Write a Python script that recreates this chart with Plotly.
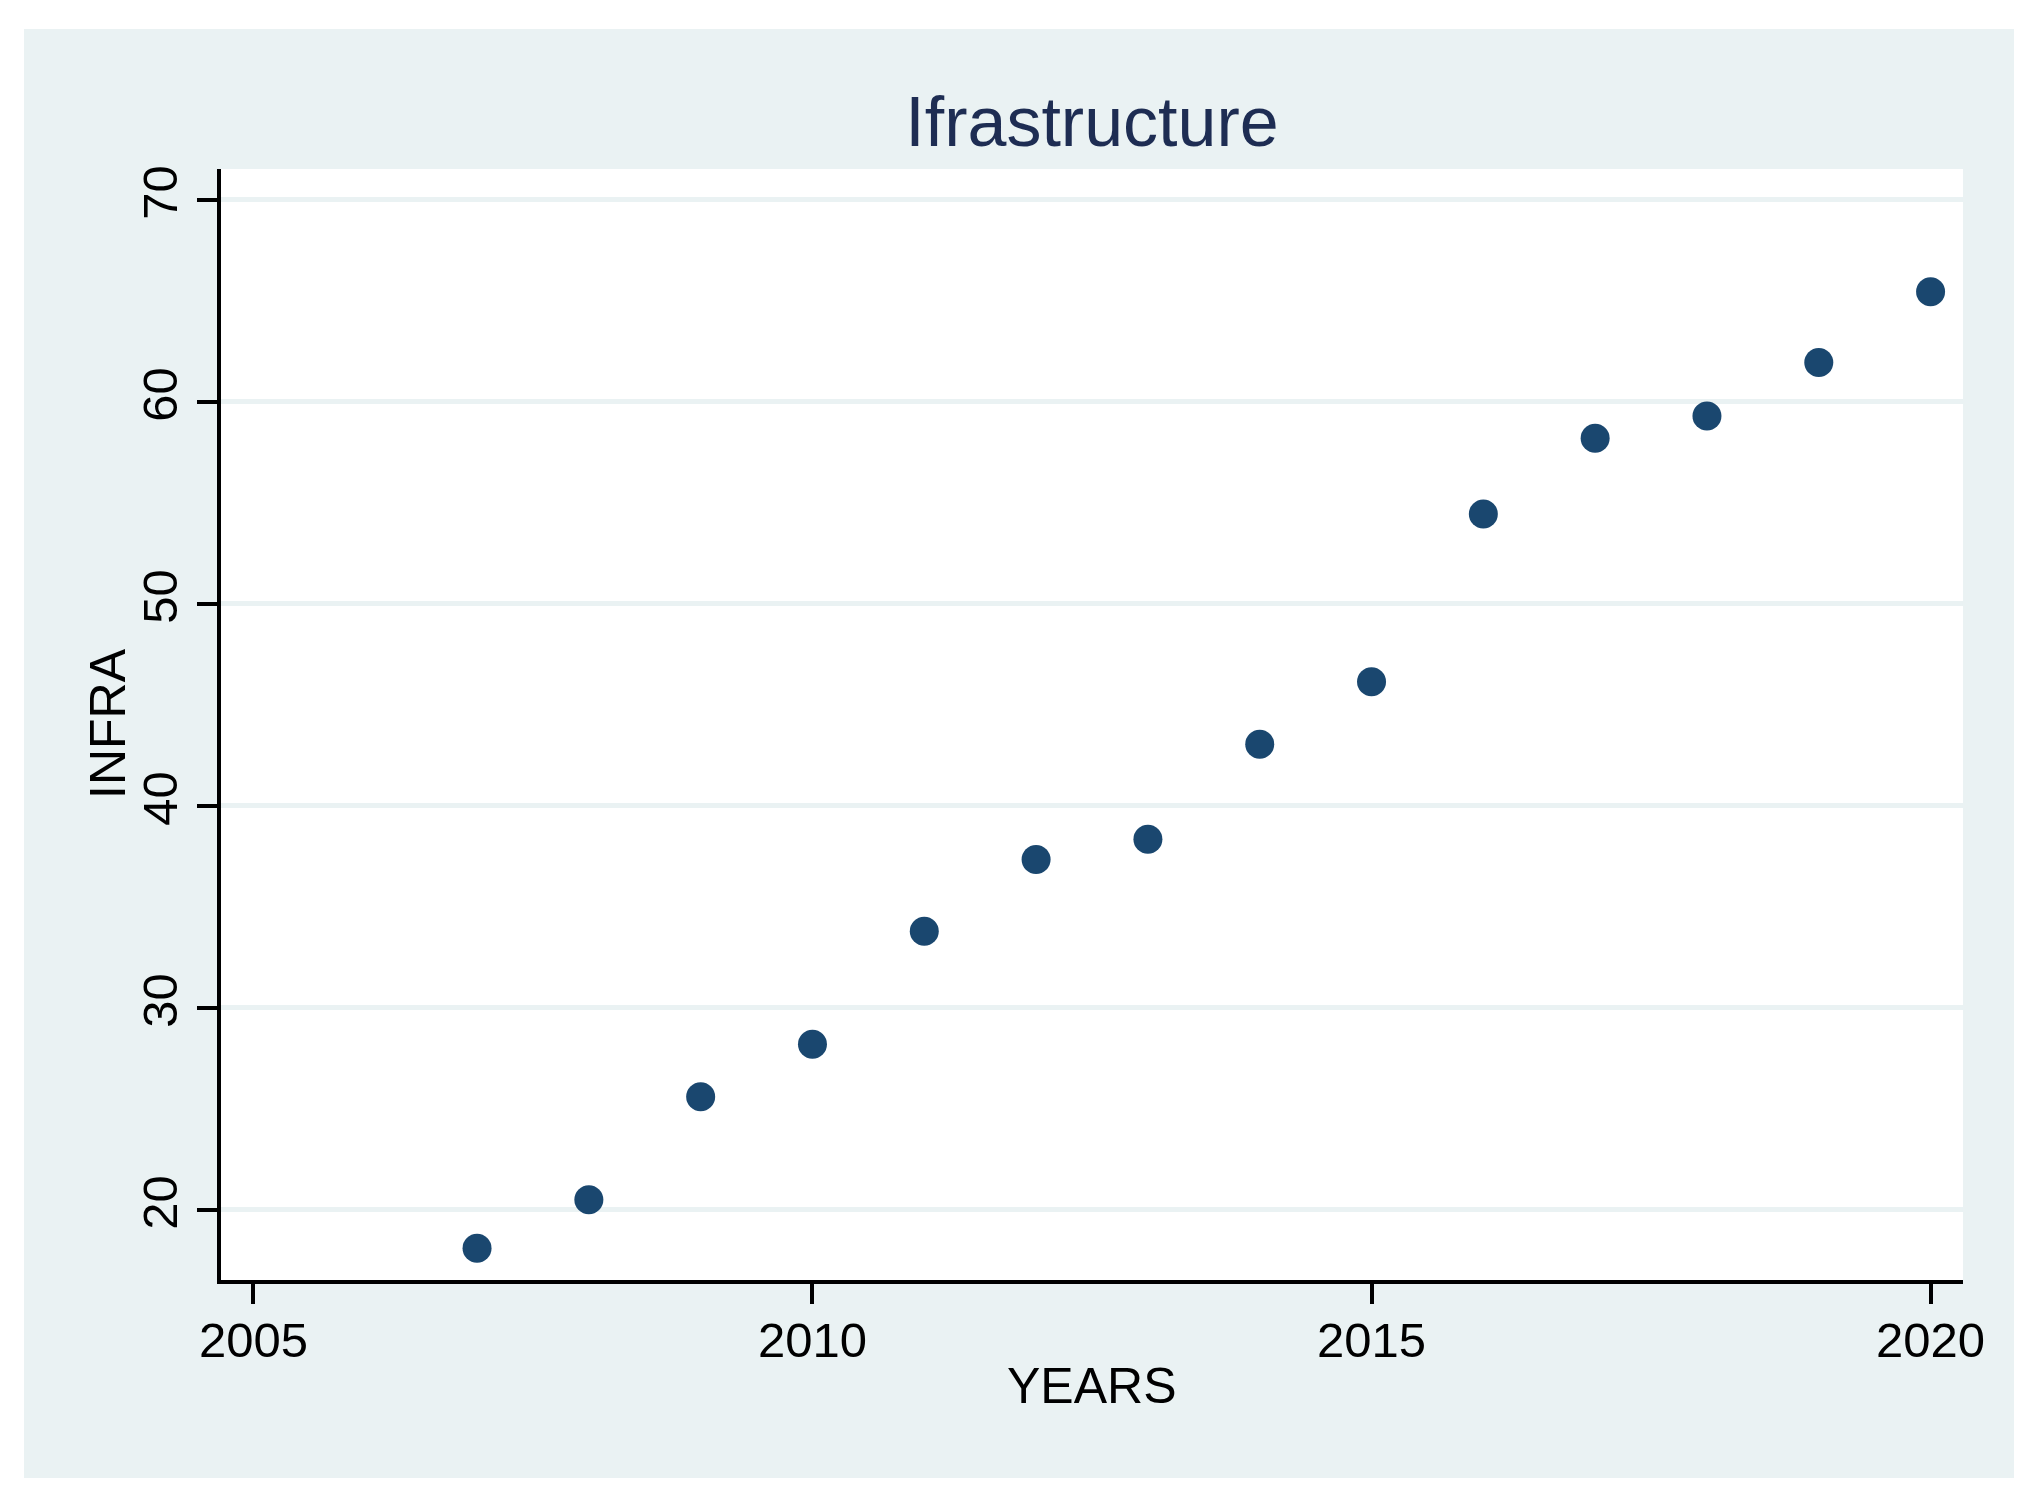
import plotly.graph_objects as go

years = [2007, 2008, 2009, 2010, 2011, 2012, 2013, 2014, 2015, 2016, 2017, 2018, 2019, 2020]
infra = [18.1, 20.5, 25.6, 28.2, 33.8, 37.35, 38.35, 43.05, 46.15, 54.45, 58.2, 59.3, 61.95, 65.45]
x_ticks = [2005, 2010, 2015, 2020]
y_ticks = [20, 30, 40, 50, 60, 70]

# page offset caused by the default 8px body margin
OFF = 8
W, H = 2036 - 2 * OFF, 1507 - 2 * OFF
# plot area in page pixels
PL, PR, PT, PB = 221, 1963, 169, 1280
L, T = PL - OFF, PT - OFF
R, B = W - (PR - OFF), H - (PB - OFF)
pw, ph = W - L - R, H - T - B
BG = "#EAF2F3"
FONT = "Liberation Sans, Arial, Helvetica, sans-serif"

def px_x(p):
    return (p - PL) / pw

def px_y(p):
    return (PB - p) / ph

fig = go.Figure()
fig.add_trace(go.Scatter(
    x=years, y=infra, mode="markers",
    marker=dict(color="#1A476F", size=29, line=dict(width=0)),
    showlegend=False,
))

fig.update_layout(
    width=W, height=H,
    margin=dict(l=L, r=R, t=T, b=B, pad=0),
    paper_bgcolor="white",
    plot_bgcolor="rgba(0,0,0,0)",
    font=dict(family=FONT, color="black"),
    title=dict(text="Ifrastructure", x=(1092 - OFF) / W, xanchor="center",
               y=1 - (121 - OFF) / H, yanchor="middle",
               font=dict(size=70, color="#1E2D53", family=FONT)),
    shapes=[
        dict(type="rect", xref="paper", yref="paper", layer="below",
             x0=px_x(24), x1=px_x(2014), y0=px_y(1478), y1=px_y(29),
             fillcolor=BG, line=dict(width=0)),
        dict(type="rect", xref="paper", yref="paper", layer="below",
             x0=0, x1=1, y0=0, y1=1, fillcolor="white", line=dict(width=0)),
    ],
    annotations=[
        dict(text="YEARS", xref="paper", yref="paper", x=0.5, y=px_y(1386),
             xanchor="center", yanchor="middle", showarrow=False,
             font=dict(size=50, color="black", family=FONT)),
        dict(text="INFRA", xref="paper", yref="paper", x=px_x(108), y=px_y(724),
             xanchor="center", yanchor="middle", textangle=-90, showarrow=False,
             font=dict(size=50, color="black", family=FONT)),
    ],
)

fig.update_xaxes(
    range=[2004.71, 2020.29], tickvals=x_ticks, ticktext=[str(v) for v in x_ticks],
    showgrid=False, zeroline=False,
    showline=True, linecolor="black", linewidth=4,
    ticks="outside", ticklen=20, tickwidth=4, tickcolor="black",
    tickfont=dict(size=49, color="black", family=FONT),
    ticklabelstandoff=-6,
)
fig.update_yaxes(
    range=[16.53, 71.53], tickvals=y_ticks, ticktext=[str(v) for v in y_ticks],
    showgrid=True, gridcolor=BG, gridwidth=5, zeroline=False,
    showline=True, linecolor="black", linewidth=4,
    ticks="outside", ticklen=20, tickwidth=4, tickcolor="black",
    tickangle=-90,
    tickfont=dict(size=49, color="black", family=FONT),
    ticklabelstandoff=0,
)

fig.write_html("out.html")
